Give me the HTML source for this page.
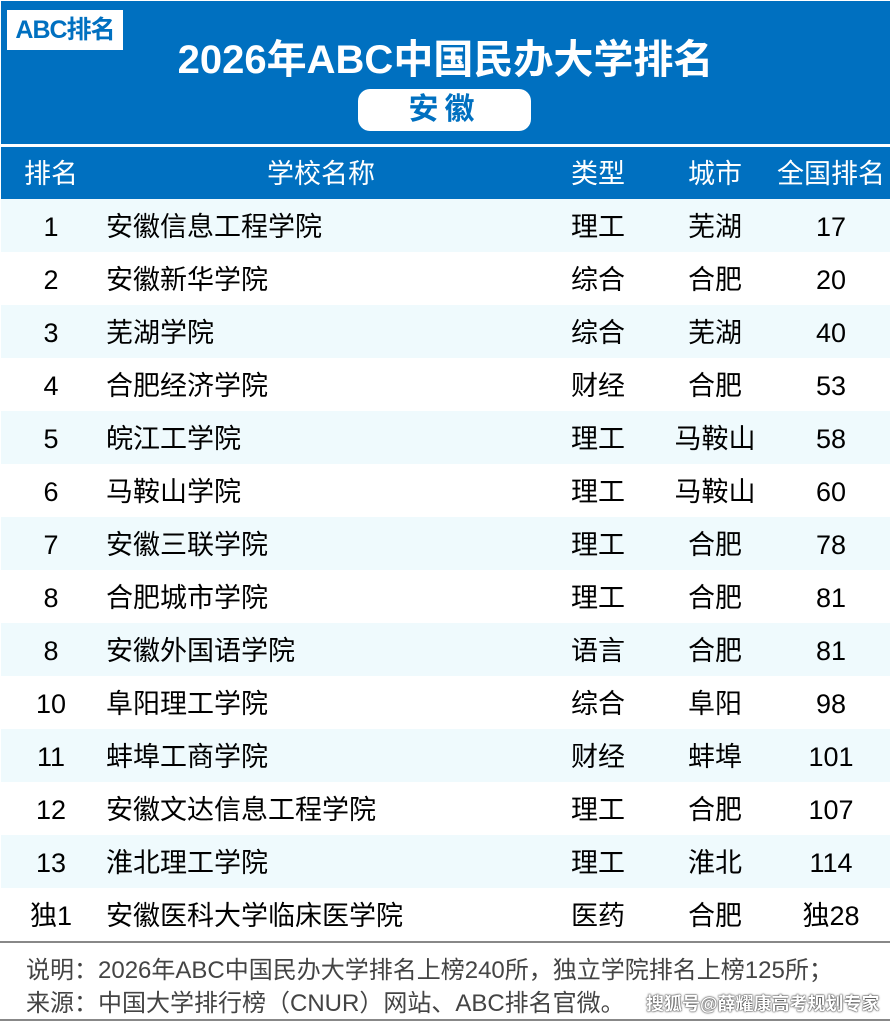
<!DOCTYPE html>
<html><head><meta charset="utf-8"><style>
body{margin:0;width:890px;height:1022px;background:#fff;font-family:"Liberation Sans","Noto Sans CJK SC",sans-serif;position:relative;overflow:hidden}
.top{position:absolute;left:1px;top:1px;width:889px;height:143px;background:#0070c0}
.logo{position:absolute;left:6px;top:9px;width:116px;height:40px;background:#fff;color:#0070c0;font-weight:bold;font-size:25px;line-height:40px;text-align:center;letter-spacing:-1px;white-space:nowrap}
.title{position:absolute;left:0;width:889px;top:35px;text-align:center;color:#fff;font-weight:bold;font-size:40px;line-height:48px;white-space:nowrap}
.pill{position:absolute;left:357px;top:88px;width:173px;height:42px;background:#fff;border-radius:12px;color:#0070c0;font-weight:bold;font-size:30px;line-height:42px;text-align:center;letter-spacing:6px}
.hdr{position:absolute;left:1px;top:147px;width:889px;height:52px;background:#0070c0;color:#fff;font-size:27px}
.row{position:absolute;left:1px;width:889px;height:53px;font-size:27px;color:#000}
.c{position:absolute;top:2px;line-height:53px;white-space:nowrap}
.hdr .c{line-height:52px;top:1px}
.r{left:0;width:100px;text-align:center}
.n{left:105px}
.t{left:537px;width:120px;text-align:center}
.ci{left:654px;width:120px;text-align:center}
.g{left:770px;width:120px;text-align:center}
.foot{position:absolute;left:26px;font-size:24px;color:#444;white-space:nowrap}
</style></head><body>
<div class="top"><div class="logo">ABC排名</div><div class="title">2026年ABC中国民办大学排名</div><div class="pill">安徽</div></div>
<div class="hdr"><span class="c r">排名</span><span class="c" style="left:160px;width:320px;text-align:center">学校名称</span><span class="c t">类型</span><span class="c ci">城市</span><span class="c g">全国排名</span></div>
<div class="row" style="top:199px;background:#effafd"><span class="c r">1</span><span class="c n">安徽信息工程学院</span><span class="c t">理工</span><span class="c ci">芜湖</span><span class="c g">17</span></div>
<div class="row" style="top:252px"><span class="c r">2</span><span class="c n">安徽新华学院</span><span class="c t">综合</span><span class="c ci">合肥</span><span class="c g">20</span></div>
<div class="row" style="top:305px;background:#effafd"><span class="c r">3</span><span class="c n">芜湖学院</span><span class="c t">综合</span><span class="c ci">芜湖</span><span class="c g">40</span></div>
<div class="row" style="top:358px"><span class="c r">4</span><span class="c n">合肥经济学院</span><span class="c t">财经</span><span class="c ci">合肥</span><span class="c g">53</span></div>
<div class="row" style="top:411px;background:#effafd"><span class="c r">5</span><span class="c n">皖江工学院</span><span class="c t">理工</span><span class="c ci">马鞍山</span><span class="c g">58</span></div>
<div class="row" style="top:464px"><span class="c r">6</span><span class="c n">马鞍山学院</span><span class="c t">理工</span><span class="c ci">马鞍山</span><span class="c g">60</span></div>
<div class="row" style="top:517px;background:#effafd"><span class="c r">7</span><span class="c n">安徽三联学院</span><span class="c t">理工</span><span class="c ci">合肥</span><span class="c g">78</span></div>
<div class="row" style="top:570px"><span class="c r">8</span><span class="c n">合肥城市学院</span><span class="c t">理工</span><span class="c ci">合肥</span><span class="c g">81</span></div>
<div class="row" style="top:623px;background:#effafd"><span class="c r">8</span><span class="c n">安徽外国语学院</span><span class="c t">语言</span><span class="c ci">合肥</span><span class="c g">81</span></div>
<div class="row" style="top:676px"><span class="c r">10</span><span class="c n">阜阳理工学院</span><span class="c t">综合</span><span class="c ci">阜阳</span><span class="c g">98</span></div>
<div class="row" style="top:729px;background:#effafd"><span class="c r">11</span><span class="c n">蚌埠工商学院</span><span class="c t">财经</span><span class="c ci">蚌埠</span><span class="c g">101</span></div>
<div class="row" style="top:782px"><span class="c r">12</span><span class="c n">安徽文达信息工程学院</span><span class="c t">理工</span><span class="c ci">合肥</span><span class="c g">107</span></div>
<div class="row" style="top:835px;background:#effafd"><span class="c r">13</span><span class="c n">淮北理工学院</span><span class="c t">理工</span><span class="c ci">淮北</span><span class="c g">114</span></div>
<div class="row" style="top:888px"><span class="c r">独1</span><span class="c n">安徽医科大学临床医学院</span><span class="c t">医药</span><span class="c ci">合肥</span><span class="c g">独28</span></div>
<div style="position:absolute;left:0;top:941px;width:890px;height:2px;background:#888"></div>
<div class="foot" style="top:950px">说明：2026年ABC中国民办大学排名上榜240所，独立学院排名上榜125所；</div>
<div class="foot" style="top:983px">来源：中国大学排行榜（CNUR）网站、ABC排名官微。</div>
<div style="position:absolute;left:646px;top:990px;font-size:18px;color:#fff;font-weight:bold;text-shadow:0 0 2px #333,0 0 1px #000;white-space:nowrap">搜狐号@薛耀康高考规划专家</div>
<div style="position:absolute;left:0;top:1019px;width:890px;height:2px;background:#888"></div>
</body></html>
